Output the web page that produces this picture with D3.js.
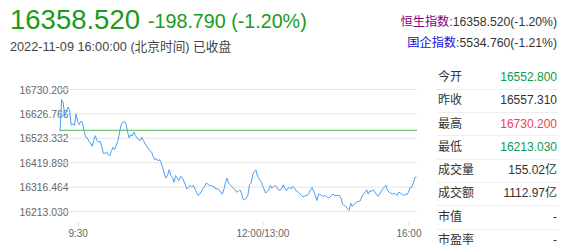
<!DOCTYPE html>
<html><head><meta charset="utf-8">
<script src="https://cdn.jsdelivr.net/npm/d3@7/dist/d3.min.js"></script>
<style>
html,body{margin:0;padding:0;background:#fff;}
svg{display:block;font-family:"Liberation Sans",Arial,"Noto Sans CJK SC",sans-serif;}
</style></head>
<body><svg id="c" width="563" height="250"></svg>
<script>
// ---- data ----
const lastPrice = "16358.520";
const changeText = "-198.790 (-1.20%)";
const dateText = "2022-11-09 16:00:00 (北京时间) 已收盘";
const indexNames = ["恒生指数", "国企指数"];
const indexValues = [":16358.520(-1.20%)", ":5534.760(-1.21%)"];
const prevClose = 16557.31;
const yMin = 16213.03, yMax = 16730.2;
const yTickLabels = ["16730.200", "16626.766", "16523.332", "16419.898", "16316.464", "16213.030"];
const xTickLabels = ["9:30", "12:00/13:00", "16:00"];
const xTickIndex = [11, 126, 217];
const tableLabels = ["今开", "昨收", "最高", "最低", "成交量", "成交额", "市值", "市盈率"];
const tableValues = ["16552.800", "16557.310", "16730.200", "16213.030", "155.02亿", "1112.97亿", "-", "-"];
const tableKinds = ["down", "flat", "up", "down", "flat", "flat", "flat", "flat"];
const prices = [
16552.8,16687.7,16673.6,16617.1,16638.3,16655.3,16640.9,16578.8,16584.3,16578.8,
16626.9,16595.8,16581.3,16595.8,16591.6,16553.3,16527.8,16524.8,16510.7,16503.5,
16489.5,16513.3,16534.6,16513.3,16507.8,16510.7,16489.5,16458.0,16459.7,16465.2,
16453.8,16449.5,16468.2,16485.2,16475.0,16493.7,16510.7,16546.0,16578.8,16591.6,
16592.8,16588.6,16553.3,16524.8,16538.8,16532.0,16549.0,16534.6,16524.8,16517.5,
16513.3,16527.8,16513.3,16499.3,16489.5,16478.0,16470.8,
16465.2,16447.0,16432.5,16436.7,16428.2,16432.5,16418.5,16397.2,16371.7,16354.7,
16366.1,16390.0,16366.1,16357.6,16336.4,16366.1,16354.7,16343.2,16361.9,16357.6,
16343.2,16326.2,16307.9,16315.1,16323.6,16317.7,16323.6,16309.2,16293.8,16281.1,
16286.6,16298.1,16309.2,16317.7,16333.4,16329.2,16323.6,16323.6,16319.4,16317.7,
16307.9,16309.2,16304.9,16295.1,16286.6,16304.9,16333.4,16354.7,16333.4,16326.2,
16319.4,16312.1,16304.9,16295.1,16298.1,
16304.9,16290.9,16266.6,16262.4,16269.6,16281.1,16326.2,16333.4,16368.7,16383.2,
16390.0,16361.9,16351.7,16340.6,16326.2,16309.2,16290.9,16298.1,16304.9,16323.6,
16312.1,16319.4,16323.6,16315.1,16304.9,16304.9,16309.2,16326.2,16312.1,16300.6,
16312.1,16315.1,16309.2,16319.4,16312.1,16300.6,16298.1,16290.9,16283.6,16276.8,
16276.8,16281.1,16281.1,16290.9,16304.9,16315.1,16298.1,16281.1,16259.8,16286.6,
16283.6,16281.1,16276.8,16281.1,16276.8,
16269.6,16272.6,16281.1,16286.6,16281.1,16281.1,16281.1,16281.1,16269.6,16244.1,
16238.6,16234.3,16224.1,16217.3,16248.3,16234.3,16244.1,16248.3,16255.6,16255.6,
16258.1,16276.8,16286.6,16295.1,16304.9,16286.6,16300.6,16298.1,16304.9,16295.1,
16286.6,16276.8,16286.6,16298.1,16309.2,16315.1,16323.6,16300.6,16295.1,16290.9,
16286.6,16290.9,16286.6,16281.1,16295.1,16290.9,16286.6,16281.1,16286.6,16283.6,
16295.1,16315.1,16315.1,16333.4,16357.6,16358.52
];

// ---- drawing ----
const svg = d3.select("#c");
const green = "#1a9b1a";

// header
svg.append("text").attr("x", 10).attr("y", 28.5).attr("font-size", 27.5).attr("fill", green).text(lastPrice);
svg.append("text").attr("x", 148).attr("y", 28).attr("font-size", 19.7).attr("fill", green).text(changeText);
svg.append("text").attr("x", 10).attr("y", 50.5).attr("font-size", 12.7).attr("fill", "#444").text(dateText);

const idxColors = ["#800080", "#1010e0"];
indexNames.forEach((n, i) => {
  const t = svg.append("text").attr("x", 557).attr("y", 25.5 + i * 21).attr("font-size", 12.2)
    .attr("text-anchor", "end").attr("fill", "#333");
  t.append("tspan").attr("fill", idxColors[i]).text(n);
  t.append("tspan").text(indexValues[i]);
});

// chart
const x = d3.scaleLinear().domain([0, prices.length - 1]).range([60, 416.5]);
const y = d3.scaleLinear().domain([yMin, yMax]).range([211.5, 89.5]);
const yTicks = d3.range(yTickLabels.length).map(i => yMax - i * (yMax - yMin) / (yTickLabels.length - 1));

svg.append("defs").append("clipPath").attr("id", "lblclip")
  .append("rect").attr("x", 0).attr("y", 70).attr("width", 64.5).attr("height", 160);

const yAxis = d3.axisLeft(y).tickValues(yTicks).tickSize(0).tickFormat((d, i) => yTickLabels[i]);
const gy = svg.append("g").attr("transform", "translate(19.5,0)").attr("clip-path", "url(#lblclip)").call(yAxis);
gy.select(".domain").remove();
gy.selectAll("text").attr("text-anchor", "start").attr("x", 0).attr("dy", "0.35em")
  .attr("font-size", 10.4).attr("fill", "#666").attr("font-family", "Liberation Sans, Arial, sans-serif");

svg.append("g").selectAll("line").data(yTicks).join("line")
  .attr("x1", 60).attr("x2", 417).attr("y1", d => y(d)).attr("y2", d => y(d))
  .attr("stroke", "#e6e6e6").attr("stroke-width", 1);

const xAxis = d3.axisBottom(x).tickValues(xTickIndex).tickSize(4).tickPadding(4)
  .tickFormat((d, i) => xTickLabels[i]);
const gx = svg.append("g").attr("transform", "translate(0,222)").call(xAxis);
gx.select(".domain").remove();
gx.selectAll(".tick line").attr("stroke", "#ddd");
gx.selectAll("text").attr("font-size", 10).attr("fill", "#666").attr("font-family", "Liberation Sans, Arial, sans-serif");

svg.append("line").attr("x1", 60).attr("x2", 417).attr("y1", y(prevClose)).attr("y2", y(prevClose))
  .attr("stroke", "#4cb84c").attr("stroke-width", 1);

svg.append("path").datum(prices)
  .attr("d", d3.line().x((d, i) => x(i)).y(d => y(d)))
  .attr("fill", "none").attr("stroke", "#4a9ff5").attr("stroke-width", 1);

// table
const kindColor = { up: "#f0405a", down: "#0a9a4a", flat: "#333" };
const rowY = i => 76.7 + i * 23.3;
const rows = svg.append("g").selectAll("g").data(tableLabels).join("g");
rows.append("text").attr("x", 438).attr("y", (d, i) => rowY(i) + 4.2).attr("font-size", 12)
  .attr("fill", "#333").text(d => d);
rows.append("text").attr("x", 557).attr("y", (d, i) => rowY(i) + 4.2).attr("font-size", 12)
  .attr("text-anchor", "end").attr("fill", (d, i) => kindColor[tableKinds[i]]).text((d, i) => tableValues[i]);
svg.append("g").selectAll("line").data(tableLabels.slice(1)).join("line")
  .attr("x1", 437).attr("x2", 558).attr("y1", (d, i) => Math.round(rowY(i) + 12) + 0.5).attr("y2", (d, i) => Math.round(rowY(i) + 12) + 0.5)
  .attr("stroke", "#eee");
</script></body></html>
